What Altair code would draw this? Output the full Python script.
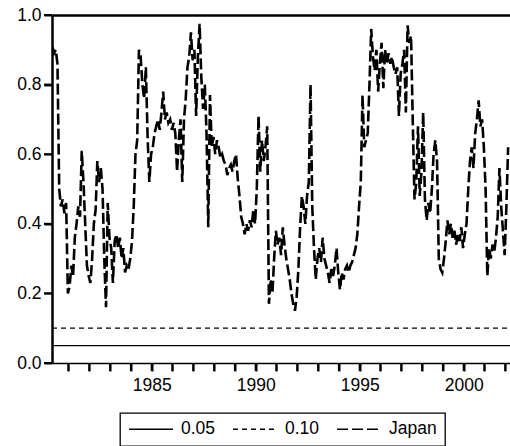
import altair as alt
import pandas as pd

# x-axis extent (decimal years) and the first observation of the series
X_MIN, X_MAX = 1980.207, 2002.227
START = 1980.22

series_names = ["0.05", "0.10", "Japan"]
thresholds = [0.05, 0.10]

# Japan, monthly readings (12 per list), starting spring 1980
jp_a = [0.91, 0.89, 0.90, 0.86, 0.50, 0.45, 0.47, 0.43, 0.46, 0.20, 0.22, 0.28]
jp_b = [0.25, 0.36, 0.40, 0.45, 0.42, 0.61, 0.52, 0.40, 0.28, 0.25, 0.23, 0.30]
jp_c = [0.40, 0.44, 0.58, 0.52, 0.56, 0.50, 0.30, 0.16, 0.46, 0.36, 0.33, 0.23]
jp_d = [0.35, 0.37, 0.33, 0.36, 0.30, 0.33, 0.26, 0.28, 0.27, 0.30, 0.35, 0.45]
jp_e = [0.60, 0.64, 0.90, 0.88, 0.80, 0.76, 0.85, 0.65, 0.52, 0.60, 0.62, 0.66]
jp_f = [0.68, 0.70, 0.67, 0.72, 0.78, 0.70, 0.72, 0.69, 0.70, 0.67, 0.69, 0.66]
jp_g = [0.55, 0.64, 0.70, 0.52, 0.70, 0.76, 0.85, 0.88, 0.95, 0.87, 0.90, 0.71]
jp_h = [0.88, 0.975, 0.82, 0.73, 0.80, 0.66, 0.39, 0.77, 0.62, 0.65, 0.60, 0.64]
jp_i = [0.62, 0.59, 0.60, 0.58, 0.57, 0.54, 0.56, 0.57, 0.55, 0.58, 0.60, 0.53]
jp_j = [0.48, 0.42, 0.40, 0.37, 0.40, 0.38, 0.41, 0.39, 0.44, 0.40, 0.50, 0.71]
jp_k = [0.55, 0.64, 0.58, 0.62, 0.68, 0.17, 0.24, 0.20, 0.30, 0.38, 0.34, 0.36]
jp_l = [0.31, 0.39, 0.34, 0.30, 0.27, 0.24, 0.20, 0.17, 0.15, 0.19, 0.27, 0.39]
jp_m = [0.48, 0.45, 0.40, 0.48, 0.52, 0.80, 0.45, 0.33, 0.24, 0.30, 0.33, 0.29]
jp_n = [0.36, 0.30, 0.28, 0.26, 0.23, 0.27, 0.25, 0.28, 0.33, 0.26, 0.21, 0.26]
jp_o = [0.24, 0.27, 0.28, 0.26, 0.28, 0.29, 0.31, 0.33, 0.37, 0.45, 0.52, 0.77]
jp_p = [0.62, 0.64, 0.66, 0.80, 0.96, 0.88, 0.84, 0.90, 0.78, 0.86, 0.92, 0.79]
jp_q = [0.90, 0.86, 0.89, 0.86, 0.88, 0.85, 0.83, 0.85, 0.71, 0.83, 0.86, 0.90]
jp_r = [0.72, 0.97, 0.92, 0.94, 0.69, 0.47, 0.52, 0.68, 0.48, 0.55, 0.72, 0.47]
jp_s = [0.41, 0.46, 0.43, 0.50, 0.60, 0.64, 0.58, 0.30, 0.27, 0.26, 0.30, 0.35]
jp_t = [0.41, 0.37, 0.40, 0.36, 0.38, 0.34, 0.37, 0.35, 0.39, 0.33, 0.37, 0.40]
jp_u = [0.50, 0.58, 0.62, 0.56, 0.66, 0.70, 0.755, 0.68, 0.70, 0.62, 0.50, 0.25]
jp_v = [0.33, 0.30, 0.34, 0.32, 0.36, 0.42, 0.56, 0.45, 0.38, 0.31, 0.45, 0.62]

japan = (jp_a + jp_b + jp_c + jp_d + jp_e + jp_f + jp_g + jp_h + jp_i + jp_j + jp_k
         + jp_l + jp_m + jp_n + jp_o + jp_p + jp_q + jp_r + jp_s + jp_t + jp_u + jp_v)

year_ticks = list(range(1981, 2003))
y_ticks = [0.0, 0.2, 0.4, 0.6, 0.8, 1.0]

thr_rows = []
for name, level in zip(series_names[:2], thresholds):
    thr_rows.append({"t": X_MIN, "v": level, "series": name, "order": 0})
    thr_rows.append({"t": X_MAX, "v": level, "series": name, "order": 1})
thr_df = pd.DataFrame(thr_rows)
jp_df = pd.DataFrame({"t": [START + i / 12.0 for i in range(len(japan))],
                      "v": japan, "series": "Japan", "order": list(range(len(japan)))})
xt_df = pd.DataFrame({"t": year_ticks})
yt_df = pd.DataFrame({"v": y_ticks})

FONT = "Liberation Sans"
H = 348

xscale = alt.Scale(domain=[X_MIN, X_MAX], nice=False, zero=False)
yscale = alt.Scale(domain=[0, 1], nice=False)
dash_scale = alt.Scale(domain=series_names, range=[[1, 0], [5, 4], [11, 4]])
legend = alt.Legend(orient="none", legendX=68, legendY=398,
                    direction="horizontal", title=None)

x_axis = alt.Axis(values=year_ticks, format="d",
                  labelExpr="datum.value % 5 == 0 ? datum.label : ''",
                  tickSize=8, tickWidth=2, tickColor="black",
                  domainColor="black", domainWidth=1.6,
                  labelFont=FONT, labelFontSize=17.5, labelColor="black",
                  labelPadding=5, labelFlush=False, labelOverlap=False, grid=False)
y_axis = alt.Axis(values=y_ticks, format=".1f",
                  tickSize=8, tickWidth=2, tickColor="black",
                  domainColor="black", domainWidth=2.5,
                  labelFont=FONT, labelFontSize=17.5, labelColor="black",
                  labelPadding=3, labelFlush=False, labelOverlap=False, grid=False)

thr = alt.Chart(thr_df).mark_line(color="black", strokeWidth=1.3).encode(
    x=alt.X("t:Q", scale=xscale, title=None, axis=x_axis),
    y=alt.Y("v:Q", scale=yscale, title=None, axis=y_axis),
    strokeDash=alt.StrokeDash("series:N", scale=dash_scale, legend=legend),
    detail="series:N",
    order="order:Q",
)

jp = alt.Chart(jp_df).mark_line(color="black", strokeWidth=2.6, clip=True).encode(
    x=alt.X("t:Q", scale=xscale, axis=None),
    y=alt.Y("v:Q", scale=yscale, axis=None),
    strokeDash=alt.StrokeDash("series:N", scale=dash_scale, legend=legend),
    order="order:Q",
)

# explicit tick marks on the bottom and left axes
xticks = alt.Chart(xt_df).mark_rule(color="black", strokeWidth=2, clip=False).encode(
    x=alt.X("t:Q", scale=xscale, axis=None),
    y=alt.value(H), y2=alt.value(H + 8),
)
yticks = alt.Chart(yt_df).mark_rule(color="black", strokeWidth=2, clip=False).encode(
    y=alt.Y("v:Q", scale=yscale, axis=None),
    x=alt.value(-8), x2=alt.value(0),
)

top = alt.Chart(thr_df).mark_line(opacity=0).encode(
    x=alt.X("t:Q", scale=xscale, title=None,
            axis=alt.Axis(orient="top", labels=False, ticks=False,
                          domainColor="black", domainWidth=2.5, grid=False)),
    y=alt.Y("v:Q", scale=yscale, axis=None),
    detail="series:N",
)

chart = alt.layer(thr, jp, xticks, yticks, top).resolve_axis(
    x="independent", y="independent"
).properties(
    width=458, height=H,
    padding={"left": 52, "top": 15, "right": 0, "bottom": 83},
    autosize=alt.AutoSizeParams(type="none"),
).configure_view(stroke=None).configure_legend(
    strokeColor="black", strokeWidth=1.3, fillColor="white", padding=8,
    labelFont=FONT, labelFontSize=17.5, labelColor="black",
    symbolType="stroke", symbolSize=1936, symbolStrokeWidth=1.5,
    symbolStrokeColor="black", clipHeight=16, columnPadding=16, labelOffset=7,
    cornerRadius=0,
)

chart.save("out.html", embed_options={"renderer": "svg", "actions": False})
